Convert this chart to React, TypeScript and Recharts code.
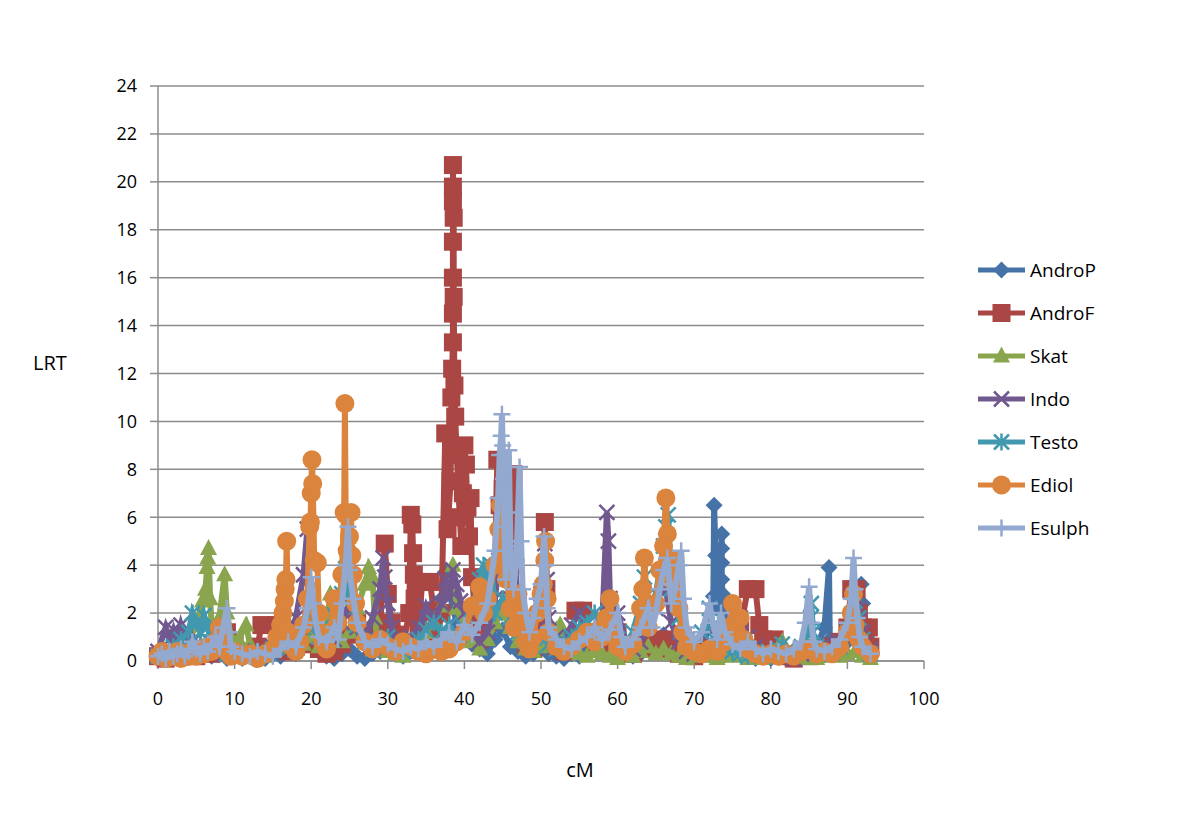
import React from "react";
import { CartesianGrid, Legend, Scatter, ScatterChart, XAxis, YAxis } from "recharts";

type Pt = [number, number];

const FONT = "'Open Sans', 'Liberation Sans', sans-serif";
const GRID = "#8c8c8c";

const X_TICKS = [0, 10, 20, 30, 40, 50, 60, 70, 80, 90, 100];
const Y_TICKS = [0, 2, 4, 6, 8, 10, 12, 14, 16, 18, 20, 22, 24];

// [cM, LRT]
const ANDRO_P: Pt[] = [
  [0, 0.1], [1, 0.3], [2, 0.2], [3, 0.5], [4, 0.3], [5, 0.6], [6, 0.4], [7, 0.2], [8, 0.3], [9, 0.1],
  [10, 0.2], [11, 0.1], [12, 0.3], [13, 0.2], [14, 0.1], [15, 0.3], [16, 0.2], [17, 0.5], [18, 0.3],
  [19, 0.6], [20, 0.8], [21, 0.4], [22, 0.2], [23, 0.1], [24, 0.3], [25, 0.5], [26, 0.2], [27, 0.1],
  [28, 0.3], [29, 0.4], [30, 0.6], [31, 0.3], [32, 0.2], [33, 0.4], [34, 0.8], [35, 1.2], [36, 1.8],
  [37, 2.6], [37.5, 3.7], [38, 2.9], [38.5, 2.2], [39, 1.6], [40, 1.1], [41, 0.7], [42, 0.5], [43, 0.3],
  [44, 0.9], [45, 1.3], [46, 0.6], [47, 0.4], [48, 0.2], [49, 0.3], [50, 0.5], [51, 0.3], [52, 0.2],
  [53, 0.1], [54, 0.3], [55, 0.2], [56, 0.4], [57, 0.6], [58, 1.2], [59, 2.4], [59.5, 1.4], [60, 0.7],
  [61, 0.3], [62, 0.2], [63, 0.3], [64, 0.5], [65, 0.8], [66, 1.1], [67, 0.7], [68, 0.4], [69, 0.2],
  [70, 0.3], [71, 0.6], [72, 1.4], [72.5, 2.7], [72.6, 6.5], [72.8, 4.4], [73.2, 2.2], [73.6, 5.3],
  [73.6, 4.7], [73.6, 4.1], [73.6, 3.4], [73.7, 2.8], [74, 1.8], [74.5, 1.0], [75, 0.6], [76, 0.3],
  [77, 0.2], [78, 0.1], [79, 0.2], [80, 0.1], [81, 0.2], [82, 0.1], [83, 0.3], [84, 0.2], [85, 0.4],
  [86, 0.6], [87, 1.4], [87.6, 3.9], [87.7, 0.9], [88, 0.4], [89, 0.3], [90, 0.8], [91, 1.5],
  [91.8, 3.2], [92, 2.4], [92.5, 1.0], [93, 0.4],
];

const ANDRO_F: Pt[] = [
  [0, 0.2], [1, 0.1], [2, 0.3], [3, 0.2], [4, 0.4], [5, 0.2], [6, 0.5], [7, 0.3], [8, 0.6], [9, 1.2],
  [10, 0.8], [11, 0.4], [12, 0.3], [13, 0.6], [13.5, 1.5], [15.5, 1.5], [16, 0.8], [17, 0.4], [18, 0.6],
  [19, 1.0], [20, 0.7], [21, 0.5], [22, 0.3], [23, 0.4], [24, 0.7], [25, 1.1], [26, 1.6], [27, 1.0],
  [28, 0.6], [29, 1.4], [29.6, 4.9], [30, 2.8], [30.5, 1.6], [31, 1.1], [32, 0.7], [32.8, 2.0], [33, 6.1],
  [33.2, 5.7], [33.3, 4.5], [33.4, 3.6], [33.5, 2.6], [34, 1.4], [34.5, 3.3], [35.5, 3.3], [36, 2.1],
  [36.5, 1.0], [37, 2.0], [37.5, 9.5], [37.8, 5.5], [38.2, 7.5], [38.3, 11.0], [38.4, 12.2], [38.5, 13.3],
  [38.5, 14.5], [38.5, 16.0], [38.5, 17.5], [38.5, 19.2], [38.5, 19.8], [38.5, 20.7], [38.6, 18.5],
  [38.6, 15.2], [38.7, 11.5], [38.8, 10.2], [39, 8.6], [39.4, 6.0], [39.6, 4.8], [39.8, 7.0], [40, 9.0],
  [40.2, 8.2], [40.4, 6.4], [40.6, 5.2], [40.8, 6.8], [41, 3.5], [41.5, 1.6], [42, 0.9], [43, 1.6],
  [44, 3.8], [44.3, 8.4], [44.6, 6.5], [45, 7.2], [45.5, 5.0], [46, 6.3], [46.4, 7.8], [46.6, 4.0],
  [47, 2.4], [47.5, 1.2], [48, 0.7], [49, 0.5], [50, 1.6], [50.5, 5.8], [50.7, 3.0], [51, 1.2], [52, 0.6],
  [53, 0.4], [54, 1.0], [54.5, 2.1], [55.5, 2.1], [56, 1.2], [57, 0.8], [58, 0.6], [59, 1.0], [60, 1.2],
  [61, 0.6], [62, 0.3], [63, 0.5], [64, 0.8], [65, 0.6], [66, 0.9], [67, 0.5], [68, 0.3], [69, 0.4],
  [70, 0.2], [71, 0.4], [72, 0.6], [73, 0.3], [74, 0.5], [75, 0.8], [76, 1.3], [77, 3.0], [78, 3.0],
  [78.5, 1.5], [79, 0.9], [80.5, 0.9], [81, 0.3], [82, 0.2], [83, 0.1], [84, 0.3], [85, 0.2], [86, 0.3],
  [87, 0.4], [88, 0.6], [89, 0.8], [90, 1.4], [90.5, 3.0], [91.2, 3.0], [91.5, 2.0], [92, 1.4],
  [92.8, 1.4], [93, 0.6],
];

const SKAT: Pt[] = [
  [0, 0.3], [0.5, 0.6], [1, 0.2], [2, 0.4], [3, 0.3], [4, 0.8], [5, 1.5], [5.8, 2.5], [6.2, 3.0],
  [6.4, 3.9], [6.5, 4.3], [6.6, 4.7], [6.8, 2.6], [7, 1.5], [7.5, 1.0], [8, 1.8], [8.7, 3.6], [9, 2.0],
  [9.5, 1.0], [10, 0.6], [10.5, 0.9], [11.5, 1.5], [12, 0.7], [13, 0.3], [14, 0.2], [15, 0.4], [16, 0.6],
  [17, 0.9], [18, 0.5], [19, 0.7], [20, 1.0], [21, 0.6], [22, 1.4], [22.5, 2.8], [23, 1.5], [24, 0.8],
  [25, 1.2], [26, 2.2], [27, 3.2], [27.5, 3.9], [28, 3.5], [28.3, 1.8], [28.6, 1.0], [29, 0.6], [30, 0.4],
  [31, 0.3], [32, 0.2], [33, 0.5], [34, 0.8], [35, 1.2], [36, 1.6], [37, 2.3], [38, 3.0], [38.5, 4.0],
  [39, 2.2], [40, 1.3], [41, 0.8], [42, 0.5], [43, 0.9], [44, 1.6], [45, 2.0], [46, 1.4], [47, 0.8],
  [48, 0.5], [49, 0.4], [50, 0.6], [51, 0.9], [52, 1.3], [52.5, 1.5], [53, 0.8], [54, 0.4], [55, 0.3],
  [56, 0.2], [57, 0.4], [58, 0.3], [59, 0.2], [60, 0.1], [61, 0.3], [62, 0.2], [63, 0.4], [64, 0.6],
  [65, 0.3], [66, 0.5], [67, 0.3], [68, 0.2], [69, 0.1], [70, 0.2], [71, 0.3], [72, 0.2], [73, 0.1],
  [74, 0.2], [75, 0.3], [76, 0.2], [77, 0.1], [78, 0.2], [79, 0.1], [80, 0.3], [81, 0.6], [81.5, 0.8],
  [82, 0.4], [83, 0.2], [84, 0.1], [85, 0.2], [86, 0.1], [87, 0.2], [88, 0.3], [89, 0.2], [90, 0.3],
  [91, 0.4], [92, 0.2], [93, 0.1],
];

const INDO: Pt[] = [
  [0, 0.4], [1, 1.4], [1.5, 0.9], [2, 1.3], [2.5, 0.8], [3, 1.5], [3.5, 1.0], [4, 1.3], [4.5, 0.8],
  [5, 0.6], [6, 0.4], [7, 0.3], [8, 0.5], [9, 0.3], [10, 0.2], [11, 0.4], [12, 0.3], [13, 0.2], [14, 0.4],
  [15, 0.6], [16, 0.8], [17, 1.1], [18, 1.8], [19, 3.6], [19.5, 5.5], [19.8, 3.0], [20, 2.2], [20.5, 1.5],
  [21, 1.0], [22, 0.7], [23, 0.9], [24, 1.6], [25, 2.4], [26, 1.4], [27, 0.9], [28, 1.8], [29, 3.0],
  [29.4, 4.3], [29.6, 3.5], [30, 2.4], [30.5, 1.4], [31, 0.8], [32, 0.6], [33, 1.0], [34, 1.4], [35, 2.3],
  [36, 1.6], [37, 2.4], [37.5, 3.4], [38, 2.6], [38.5, 3.8], [39, 3.2], [39.5, 2.5], [40, 2.0], [41, 1.2],
  [42, 0.8], [43, 1.2], [44, 2.6], [44.5, 4.2], [45, 5.6], [45.5, 3.8], [46, 2.6], [46.5, 4.5], [47, 2.0],
  [48, 1.1], [49, 1.6], [50, 2.8], [50.5, 4.9], [50.8, 3.4], [51, 1.8], [52, 1.0], [53, 0.8], [54, 1.5],
  [55, 2.0], [56, 1.2], [57, 0.9], [58, 1.6], [58.6, 6.2], [58.8, 5.0], [59, 2.6], [60, 2.0], [61, 0.9],
  [62, 0.5], [63, 0.8], [64, 1.5], [65, 2.2], [66, 3.4], [66.5, 2.6], [67, 1.6], [68, 0.8], [69, 0.4],
  [70, 0.3], [71, 0.5], [72, 0.8], [73, 1.0], [74, 0.8], [75, 1.2], [76, 1.8], [77, 1.0], [78, 0.6],
  [79, 0.3], [80, 0.2], [81, 0.3], [82, 0.2], [83, 0.1], [84, 0.3], [85, 0.5], [86, 0.4], [87, 0.7],
  [88, 0.5], [89, 0.8], [90, 1.2], [91, 1.6], [91.5, 2.2], [92, 1.2], [93, 0.5],
];

const TESTO: Pt[] = [
  [0, 0.2], [1, 0.4], [2, 0.6], [3, 0.9], [4, 1.2], [4.5, 2.0], [5, 1.6], [5.5, 1.2], [6, 1.9], [6.5, 1.4],
  [7, 0.8], [8, 0.5], [9, 0.3], [10, 0.2], [11, 0.3], [12, 0.2], [13, 0.4], [14, 0.3], [15, 0.5], [16, 0.7],
  [17, 0.5], [18, 0.9], [19, 1.4], [20, 1.8], [21, 1.0], [22, 1.3], [23, 1.9], [24, 2.8], [24.5, 4.4],
  [25, 2.6], [26, 1.5], [27, 0.8], [28, 0.5], [29, 0.7], [30, 1.0], [31, 0.6], [32, 0.4], [33, 0.6],
  [34, 0.9], [35, 1.3], [36, 1.6], [37, 1.2], [38, 1.5], [39, 1.0], [40, 1.4], [41, 2.2], [42, 3.4],
  [42.5, 4.0], [43, 3.0], [43.5, 4.0], [44, 2.0], [45, 2.6], [46, 1.8], [47, 1.2], [48, 0.8], [49, 0.6],
  [50, 1.0], [51, 0.7], [52, 0.5], [53, 0.8], [54, 1.0], [55, 1.4], [56, 1.6], [57, 2.0], [58, 1.5],
  [59, 1.2], [60, 0.9], [61, 0.6], [62, 1.2], [63, 2.4], [63.5, 3.5], [64, 2.2], [65, 2.8], [66, 4.8],
  [66.3, 5.6], [66.6, 6.1], [67, 3.0], [68, 1.8], [69, 0.9], [70, 0.6], [71, 1.2], [72, 2.2], [72.5, 1.5],
  [73, 0.8], [74, 0.5], [75, 0.4], [76, 0.3], [77, 0.2], [78, 0.4], [79, 0.3], [80, 0.2], [81, 0.5],
  [81.5, 0.7], [82, 0.4], [83, 0.3], [84, 0.6], [85, 1.3], [85.2, 1.8], [85.3, 2.4], [85.5, 1.2],
  [86, 0.6], [87, 0.4], [88, 0.3], [89, 0.6], [90, 1.2], [91, 2.5], [91.5, 1.8], [92, 0.9], [93, 0.3],
];

const EDIOL: Pt[] = [
  [0, 0.2], [0.5, 0.4], [1, 0.1], [1.5, 0.3], [2, 0.2], [2.5, 0.4], [3, 0.1], [3.5, 0.3], [4, 0.2],
  [4.5, 0.4], [5, 0.2], [5.5, 0.5], [6, 0.3], [6.5, 0.6], [7, 0.4], [7.5, 0.8], [8, 1.4], [8.5, 0.8],
  [9, 0.4], [9.5, 0.2], [10, 0.4], [11, 0.2], [12, 0.3], [13, 0.1], [14, 0.3], [15, 0.5], [15.5, 1.0],
  [16, 1.5], [16.3, 2.0], [16.5, 2.5], [16.6, 3.0], [16.7, 3.4], [16.8, 5.0], [17, 1.2], [17.5, 0.6],
  [18, 0.4], [18.5, 0.8], [19, 1.5], [19.5, 2.6], [19.8, 5.6], [19.9, 5.8], [20, 7.0], [20.1, 8.4],
  [20.2, 7.4], [20.4, 4.2], [20.8, 4.1], [21, 2.0], [21.5, 0.8], [22, 0.5], [22.5, 1.2], [23, 2.6],
  [23.5, 1.6], [24, 3.6], [24.3, 6.2], [24.4, 10.75], [24.5, 6.1], [24.7, 4.6], [25, 5.2], [25.2, 6.2],
  [25.3, 4.4], [25.5, 3.6], [25.8, 2.4], [26, 1.6], [27, 0.8], [28, 0.5], [29, 0.9], [30, 0.6], [31, 0.4],
  [32, 0.8], [33, 0.6], [34, 0.4], [35, 0.3], [36, 0.5], [37, 0.4], [37.5, 0.7], [38, 0.5], [39, 0.8],
  [40, 1.2], [41, 2.3], [42, 3.1], [42.5, 2.0], [43, 2.6], [44, 4.0], [44.5, 5.5], [44.7, 6.5], [45, 4.6],
  [45.5, 3.4], [46, 2.2], [46.5, 1.4], [47, 2.8], [47.5, 1.6], [48, 0.8], [48.5, 0.5], [49, 1.0],
  [49.5, 2.0], [50, 2.8], [50.3, 3.2], [50.5, 4.2], [50.6, 5.0], [50.8, 2.6], [51, 1.2], [52, 0.6],
  [53, 0.4], [54, 0.6], [55, 0.9], [56, 1.2], [56.5, 1.0], [57, 0.8], [57.5, 1.3], [58, 1.0], [58.5, 1.8],
  [59, 2.6], [59.5, 1.2], [60, 0.6], [61, 0.4], [62, 0.7], [63, 2.2], [63.3, 3.0], [63.5, 4.3], [63.8, 2.4],
  [64, 1.4], [65, 2.4], [65.5, 3.8], [66, 4.8], [66.3, 6.8], [66.5, 5.3], [66.7, 4.2], [67, 3.4],
  [67.5, 4.2], [68, 2.2], [68.5, 1.2], [69, 0.6], [70, 0.4], [71, 0.3], [72, 0.5], [73, 0.4], [74, 0.8],
  [74.5, 1.4], [75, 2.4], [75.5, 1.2], [76, 1.8], [76.5, 0.9], [77, 0.5], [78, 0.3], [79, 0.2], [80, 0.3],
  [81, 0.2], [82, 0.3], [83, 0.2], [84, 0.4], [85, 0.5], [86, 0.3], [87, 0.4], [88, 0.3], [89, 0.6],
  [90, 1.2], [90.5, 2.0], [90.8, 2.8], [91, 1.5], [91.5, 0.9], [92, 0.6], [93, 0.3],
];

const ESULPH: Pt[] = [
  [0, 0.2], [0.5, 0.3], [1, 0.1], [1.5, 0.4], [2, 0.2], [2.5, 0.3], [3, 0.5], [3.5, 0.2], [4, 0.4],
  [4.5, 0.8], [5, 0.5], [5.5, 0.3], [6, 0.6], [6.5, 0.4], [7, 0.7], [7.5, 1.0], [8, 0.6], [8.5, 1.4],
  [9, 2.2], [9.3, 1.2], [9.5, 0.6], [10, 0.4], [11, 0.3], [12, 0.2], [13, 0.4], [14, 0.3], [15, 0.2],
  [16, 0.5], [17, 0.8], [18, 0.6], [19, 1.4], [19.5, 2.2], [20, 3.5], [20.3, 2.4], [20.6, 1.6], [21, 1.0],
  [22, 0.8], [23, 1.4], [23.5, 0.9], [24, 2.4], [24.5, 4.0], [24.8, 5.6], [25, 3.8], [25.5, 2.6], [26, 1.6],
  [27, 0.8], [28, 0.6], [29, 0.9], [30, 0.7], [31, 0.5], [32, 0.4], [33, 0.6], [34, 0.5], [35, 0.8],
  [36, 0.6], [37, 0.9], [38, 1.2], [39, 0.8], [40, 1.5], [41, 1.1], [42, 1.6], [43, 2.4], [44, 4.6],
  [44.4, 6.8], [44.6, 8.6], [44.8, 9.4], [44.9, 10.3], [45, 9.0], [45.1, 7.6], [45.2, 5.6], [45.4, 3.4],
  [45.6, 6.2], [45.8, 8.8], [46, 4.8], [46.4, 3.0], [46.8, 4.2], [47.2, 8.1], [47.4, 5.0], [47.6, 3.0],
  [48, 2.0], [48.5, 1.2], [49, 1.8], [49.5, 2.6], [50, 3.2], [50.4, 5.2], [50.6, 4.0], [50.8, 2.2],
  [51, 1.4], [52, 0.9], [53, 0.6], [54, 0.5], [55, 0.8], [56, 1.0], [57, 1.4], [58, 0.9], [59, 1.3],
  [60, 2.0], [60.5, 1.0], [61, 0.6], [62, 0.9], [63, 1.4], [64, 2.2], [64.5, 1.4], [65, 2.0], [65.5, 3.0],
  [66, 3.8], [66.5, 4.3], [66.8, 3.2], [67, 2.4], [67.5, 3.0], [68, 4.0], [68.3, 4.6], [68.6, 2.6],
  [69, 1.4], [70, 0.8], [71, 1.2], [72, 2.4], [72.4, 1.6], [73, 0.9], [73.5, 2.0], [74, 1.2], [75, 0.7],
  [76, 0.5], [77, 0.8], [78, 0.5], [79, 0.3], [80, 0.5], [81, 0.4], [82, 0.3], [83, 0.5], [84, 0.8],
  [84.5, 1.6], [85, 3.1], [85.3, 1.6], [85.6, 0.8], [86, 0.5], [87, 0.4], [88, 0.6], [89, 0.9], [90, 1.6],
  [90.5, 2.6], [90.8, 4.3], [91, 3.0], [91.3, 1.8], [91.6, 1.0], [92, 0.6], [93, 0.3],
];

type MarkerKind = "diamond" | "square" | "triangle" | "x" | "star" | "circle" | "plus";

const SERIES: { name: string; color: string; marker: MarkerKind; data: Pt[] }[] = [
  { name: "AndroP", color: "#4572A7", marker: "diamond", data: ANDRO_P },
  { name: "AndroF", color: "#AA4643", marker: "square", data: ANDRO_F },
  { name: "Skat", color: "#89A54E", marker: "triangle", data: SKAT },
  { name: "Indo", color: "#71588F", marker: "x", data: INDO },
  { name: "Testo", color: "#4198AF", marker: "star", data: TESTO },
  { name: "Ediol", color: "#DB843D", marker: "circle", data: EDIOL },
  { name: "Esulph", color: "#93A9CF", marker: "plus", data: ESULPH },
];

function Marker({ cx, cy, kind, color }: { cx: number; cy: number; kind: MarkerKind; color: string }) {
  if (cx == null || cy == null) return null;
  switch (kind) {
    case "diamond":
      return <path d={`M${cx},${cy - 8.5}L${cx + 8.5},${cy}L${cx},${cy + 8.5}L${cx - 8.5},${cy}Z`} fill={color} />;
    case "square":
      return <rect x={cx - 9} y={cy - 9} width={18} height={18} fill={color} />;
    case "triangle":
      return <path d={`M${cx},${cy - 9.5}L${cx + 8.5},${cy + 6.5}L${cx - 8.5},${cy + 6.5}Z`} fill={color} />;
    case "x":
      return (
        <path d={`M${cx - 7.5},${cy - 7.5}L${cx + 7.5},${cy + 7.5}M${cx + 7.5},${cy - 7.5}L${cx - 7.5},${cy + 7.5}`}
          stroke={color} strokeWidth={2.5} />
      );
    case "star":
      return (
        <path
          d={`M${cx - 7.5},${cy - 7.5}L${cx + 7.5},${cy + 7.5}M${cx + 7.5},${cy - 7.5}L${cx - 7.5},${cy + 7.5}M${cx},${cy - 8.5}L${cx},${cy + 8.5}`}
          stroke={color} strokeWidth={2.5} />
      );
    case "circle":
      return <circle cx={cx} cy={cy} r={9.5} fill={color} />;
    case "plus":
      return (
        <path d={`M${cx - 8.5},${cy}L${cx + 8.5},${cy}M${cx},${cy - 8.5}L${cx},${cy + 8.5}`}
          stroke={color} strokeWidth={2.5} />
      );
  }
  return null;
}

function LegendContent() {
  return (
    <div style={{ fontFamily: FONT, fontSize: 19, color: "#000" }}>
      {SERIES.map((s) => (
        <div key={s.name} style={{ display: "flex", alignItems: "center", height: 43 }}>
          <svg width={52} height={24} style={{ display: "block" }}>
            <line x1={0} x2={47} y1={12} y2={12} stroke={s.color} strokeWidth={5} />
            <Marker cx={23.5} cy={12} kind={s.marker} color={s.color} />
          </svg>
          <span>{s.name}</span>
        </div>
      ))}
    </div>
  );
}

const tickStyle = { fill: "#000", fontSize: 18, fontFamily: FONT };

export default function App() {
  return (
    <div style={{ position: "absolute", left: 0, top: 0, width: 1200, height: 820, background: "#fff" }}>
      {/* legend box (160 wide) is added to the right offset, so margin right = 276 - 160 */}
      <ScatterChart width={1200} height={820} margin={{ top: 86, right: 116, left: 0, bottom: 99 }}>
        <CartesianGrid stroke={GRID} strokeWidth={1.5} vertical={false} horizontalValues={Y_TICKS} />
        <XAxis
          type="number"
          dataKey="x"
          domain={[0, 100]}
          ticks={X_TICKS}
          interval={0}
          height={60}
          tick={tickStyle}
          tickSize={8}
          tickMargin={23}
          axisLine={{ stroke: GRID, strokeWidth: 1.5 }}
          tickLine={{ stroke: GRID, strokeWidth: 1.5 }}
          label={{ value: "cM", position: "insideBottom", offset: -56, dx: 39, fill: "#000", fontSize: 20, fontFamily: FONT }}
        />
        <YAxis
          type="number"
          dataKey="y"
          domain={[0, 24]}
          ticks={Y_TICKS}
          interval={0}
          width={158}
          tick={tickStyle}
          tickSize={8}
          tickMargin={13}
          axisLine={{ stroke: GRID, strokeWidth: 1.5 }}
          tickLine={{ stroke: GRID, strokeWidth: 1.5 }}
          label={{ value: "LRT", position: "insideLeft", offset: 33, dy: -11, fill: "#000", fontSize: 20, fontFamily: FONT }}
        />
        <Legend
          layout="vertical"
          align="right"
          verticalAlign="top"
          content={<LegendContent />}
          wrapperStyle={{ left: 978, top: 248, width: 160 }}
        />
        {SERIES.map((s) => (
          <Scatter
            key={s.name}
            name={s.name}
            data={s.data.map(([x, y]) => ({ x, y }))}
            fill={s.color}
            line={{ stroke: s.color, strokeWidth: 6 }}
            lineType="joint"
            isAnimationActive={false}
            shape={(p: any) => <Marker cx={p.cx} cy={p.cy} kind={s.marker} color={s.color} />}
          />
        ))}
      </ScatterChart>
    </div>
  );
}
